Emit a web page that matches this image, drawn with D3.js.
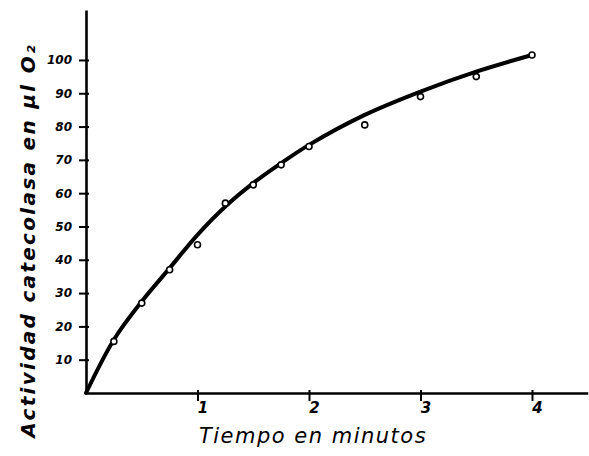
<!DOCTYPE html>
<meta charset="utf-8">
<style>
body { margin: 0; background: #fff; }
svg { display: block; }
.tick text { font-family: "DejaVu Sans", sans-serif; font-style: italic; font-weight: bold; fill: #000; }
.ttl { font-family: "DejaVu Sans", sans-serif; font-style: italic; fill: #000; }
</style>
<svg width="589" height="456"></svg>
<script src="https://d3js.org/d3.v7.min.js"></script>
<script>

// measured points (time in minutes, activity in ul O2)
var tiempo = [0.25, 0.5, 0.75, 1.0, 1.25, 1.5, 1.75, 2.0, 2.5, 3.0, 3.5, 4.0];
var actividad = [15.5, 27, 37, 44.5, 57, 62.5, 68.5, 74, 80.5, 89, 95, 101.5];

// fitted curve
var curvaT = [0, 0.25, 0.5, 0.75, 1.0, 1.25, 1.5, 1.75, 2.0, 2.5, 3.0, 3.5, 4.0];
var curvaV = [0, 16, 27.5, 37.5, 47.5, 56, 63, 69, 74.5, 83.5, 90.5, 96.5, 101.5];

var yTicks = [10, 20, 30, 40, 50, 60, 70, 80, 90, 100];
var xTicks = [1, 2, 3, 4];

var svg = d3.select("svg");

var x = d3.scaleLinear().domain([0, 4.5]).range([86, 587.75]),
    y = d3.scaleLinear().domain([0, 115]).range([393, 10]);

// x axis
var gx = svg.append("g")
    .attr("transform", "translate(0," + y(0) + ")")
    .call(d3.axisBottom(x).tickValues(xTicks).tickSize(0).tickPadding(9).tickFormat(d3.format("d")));
gx.select(".domain").attr("stroke", "#000").attr("stroke-width", 2.6);
gx.selectAll(".tick line").attr("y1", -3).attr("y2", 8).attr("stroke-width", 2);
gx.selectAll(".tick text").attr("font-size", 15).attr("dx", 5);

// y axis
var gy = svg.append("g")
    .attr("transform", "translate(" + x(0) + ",0)")
    .call(d3.axisLeft(y).tickValues(yTicks).tickSize(0).tickPadding(14).tickFormat(d3.format("d")));
gy.select(".domain").attr("stroke", "#000").attr("stroke-width", 2.6);
gy.selectAll(".tick line").attr("x1", -7).attr("x2", 3).attr("stroke-width", 2);
gy.selectAll(".tick text").attr("font-size", 12);

// titles
svg.append("text").attr("class", "ttl")
    .attr("x", 313).attr("y", 443)
    .attr("text-anchor", "middle")
    .attr("font-size", 21)
    .attr("letter-spacing", 1.5)
    .text("Tiempo en minutos");

svg.append("text").attr("class", "ttl")
    .attr("transform", "translate(35,43) rotate(-90)")
    .attr("text-anchor", "end")
    .attr("font-size", 20)
    .attr("font-weight", "bold")
    .attr("letter-spacing", 2.3)
    .text("Actividad catecolasa en µl O₂");

// curve
var curva = curvaT.map(function(t, i) { return [t, curvaV[i]]; });
svg.append("path")
    .datum(curva)
    .attr("fill", "none")
    .attr("stroke", "#000")
    .attr("stroke-width", 4)
    .attr("stroke-linecap", "round")
    .attr("d", d3.line()
        .x(function(d) { return x(d[0]); })
        .y(function(d) { return y(d[1]); })
        .curve(d3.curveCatmullRom));

// points
svg.selectAll(".pt")
    .data(tiempo)
    .enter()
    .append("circle")
    .attr("class", "pt")
    .attr("cx", function(d) { return x(d); })
    .attr("cy", function(d, i) { return y(actividad[i]); })
    .attr("r", 3)
    .attr("fill", "#fff")
    .attr("stroke", "#000")
    .attr("stroke-width", 1.6);

</script>
